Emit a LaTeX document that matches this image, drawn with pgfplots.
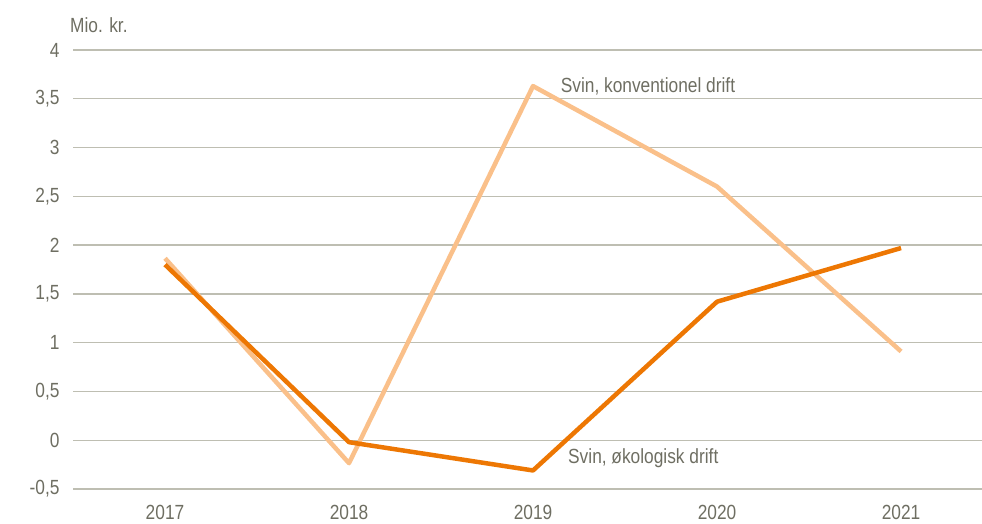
\documentclass[border=0pt]{standalone}
\usepackage{fontspec}
\setmainfont{Liberation Sans}[FakeStretch=0.845]
\usepackage{pgfplots}
\pgfplotsset{compat=1.18}
\definecolor{txt}{RGB}{110,110,98}
\definecolor{grd}{RGB}{190,190,178}
\definecolor{lightor}{RGB}{250,192,138}
\definecolor{darkor}{RGB}{237,119,3}
\newcommand{\fs}{\fontsize{20.5}{24}\selectfont}
\begin{document}
\begin{tikzpicture}[x=1pt,y=1pt]
\path[use as bounding box] (0,0) rectangle (982,524);
\begin{axis}[
  at={(73pt,35pt)}, anchor=south west,
  scale only axis, width=909pt, height=439pt,
  xmin=2016.5, xmax=2021.44,
  ymin=-0.5, ymax=4,
  xtick={2017,2018,2019,2020,2021},
  ytick={-0.5,0,0.5,1,1.5,2,2.5,3,3.5,4},
  axis line style={draw=none},
  tick style={draw=none},
  ymajorgrids, grid style={grd, line width=1.3pt},
  /pgf/number format/assume math mode=true,
  /pgf/number format/use comma,
  /pgf/number format/1000 sep={},
  yticklabel style={/pgf/number format/fixed, /pgf/number format/precision=1},
  ticklabel style={font=\fs, text=txt},
  yticklabel style={xshift=-10pt},
  xticklabel style={yshift=-13pt},
  clip=false,
]
\addplot[lightor, line width=4.5pt, line join=round] coordinates {
  (2017,1.865) (2018,-0.235) (2019,3.63) (2020,2.60) (2021,0.91)};
\addplot[darkor, line width=4.5pt, line join=round] coordinates {
  (2017,1.80) (2018,-0.02) (2019,-0.31) (2020,1.42) (2021,1.97)};
\node[anchor=base west, text=txt, font=\fs, inner sep=0pt] at (axis cs:2019.15,3.569) {Svin, konventionel drift};
\node[anchor=base west, text=txt, font=\fs, inner sep=0pt] at (axis cs:2019.19,-0.234) {Svin, økologisk drift};
\end{axis}
\node[anchor=base west, text=txt, font=\fs, inner sep=0pt] at (70,491) {Mio. kr.};
\end{tikzpicture}
\end{document}
